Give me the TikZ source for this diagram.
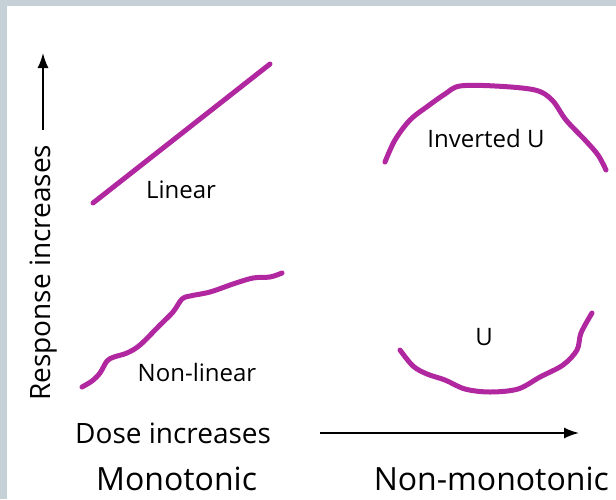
\documentclass[tikz,border=0pt]{standalone}
\usepackage{fontspec}
\setmainfont{Open Sans}
\usetikzlibrary{arrows.meta}
\definecolor{frame}{HTML}{C5D0D7}
\definecolor{curvec}{HTML}{B0279F}
\tikzset{
  curve/.style={draw=curvec, line width=5pt, line cap=round, line join=round},
  axis/.style={draw=black, line width=1.6pt, -{Latex[length=15pt,width=11pt]}},
  lab/.style={inner sep=0pt, font=\fontsize{24}{24}\selectfont},
  axlab/.style={inner sep=0pt, font=\fontsize{28}{28}\selectfont},
  biglab/.style={inner sep=0pt, font=\fontsize{32}{32}\selectfont},
}
\begin{document}
\begin{tikzpicture}[x=1pt,y=-1pt]
\useasboundingbox (0,0) rectangle (616,499);
\fill[frame] (0,0) rectangle (616,6);
\fill[frame] (0,0) rectangle (7,499);
% axes
\coordinate (ya) at (43,130);
\coordinate (yb) at (43,53);
\draw[axis] (ya) -- (yb);
\node[axlab, rotate=90, anchor=base west] (resp) at (50,401) {Response increases};
\coordinate (xa) at (320,433);
\coordinate (xb) at (579,433);
\draw[axis] (xa) -- (xb);
\node[axlab, anchor=base west] (dose) at (75,443) {Dose increases};
\node[biglab, anchor=base west] (mono) at (96,490) {Monotonic};
\node[biglab, anchor=base east] (nonmono) at (609,490) {Non-monotonic};
% linear
\draw[curve] (93,203) -- (270,64);
\node[lab] (lin) at (181,190) {Linear};
% non-linear
\draw[curve] plot[smooth, tension=0.55] coordinates {(82,387) (92,381) (100,373) (107,361) (114,357) (127,353) (140,345) (160,325) (173,312) (182,299) (190,296) (210,292) (233,284) (253,278) (270,277) (282,273)};
\node[lab] (nonlin) at (197,372) {Non-linear};
% inverted U
\draw[curve] plot[smooth, tension=0.55] coordinates {(385,162) (395,140) (410,120) (428,106) (445,94) (460,86) (495,86) (535,90) (552,100) (566,120) (585,140) (598,155) (606,170)};
\node[lab] (invu) at (486,138) {Inverted U};
% U
\draw[curve] plot[smooth, tension=0.55] coordinates {(400,350) (413,366) (427,374) (445,380) (465,389) (490,392) (518,389) (540,377) (563,365) (577,350) (581,333) (592,313)};
\node[lab] (u) at (484,337) {U};
\end{tikzpicture}
\end{document}
